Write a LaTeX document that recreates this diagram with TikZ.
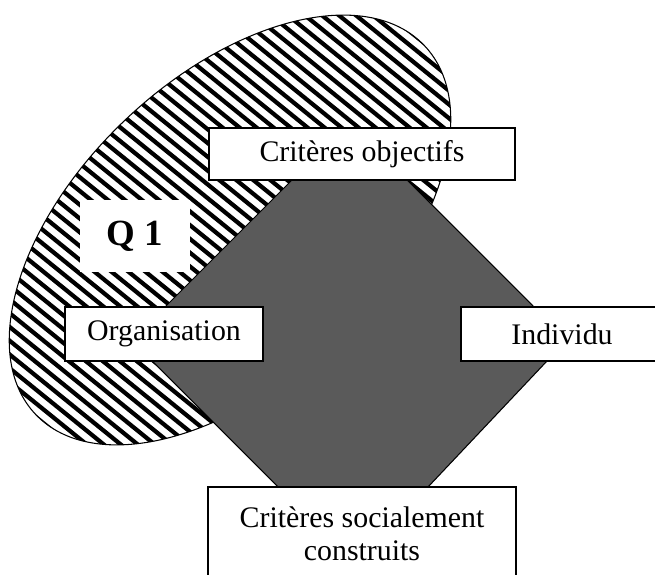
\documentclass[tikz,border=0pt]{standalone}
\usepackage{fontspec}
\setmainfont{Liberation Serif}
\usetikzlibrary{positioning}
\definecolor{octgray}{RGB}{90,90,90}
\tikzset{
	critbox/.style={draw,line width=0.8pt,fill=white,anchor=center,font=\fontsize{17}{19}\selectfont,align=center},
	hatchline/.style={line width=2.4pt},
}

\begin{document}
\begin{tikzpicture}[x=0.02cm,y=0.02cm]
				\useasboundingbox (0,0) rectangle (655,574);
				
				% hatched zone Q1
				\begin{scope}
					\clip[rotate around={43.5:(230,344)}] (230,344) ellipse [x radius=5.36cm,y radius=3.04cm];
					\foreach \k in {0,...,80}
						\draw[hatchline] (-700+17*\k,574) -- ++(700,-567);
				\end{scope}
				\draw[line width=0.6pt,rotate around={43.5:(230,344)}] (230,344) ellipse [x radius=5.36cm,y radius=3.04cm];
				
				% octagon
				\draw[fill=octgray,line width=0.6pt] (292,394) -- (407,394) -- (533,268) -- (547,213) -- (428,87) -- (278,87) -- (152,213) -- (166,268) -- cycle;
				
				\node (Q1) at (135,338) [fill=white,minimum width=2.2cm,minimum height=1.44cm,font=\fontsize{21}{24}\selectfont\bfseries] {Q 1};
				
				\node (ObjCrit) at (362,420) [critbox,minimum width=6.12cm,minimum height=1.04cm] {Critères objectifs};
				\node (Orga) at (164,240) [critbox,minimum width=3.96cm,minimum height=1.08cm] {Organisation};
				\node (Indiv) at (562,240) [critbox,minimum width=4.04cm,minimum height=1.08cm] {Individu};
				\node (SocCrit) at (362,40.5) [critbox,minimum width=6.16cm,minimum height=1.86cm] {Critères socialement\\construits};
				
				\end{tikzpicture}
\end{document}
